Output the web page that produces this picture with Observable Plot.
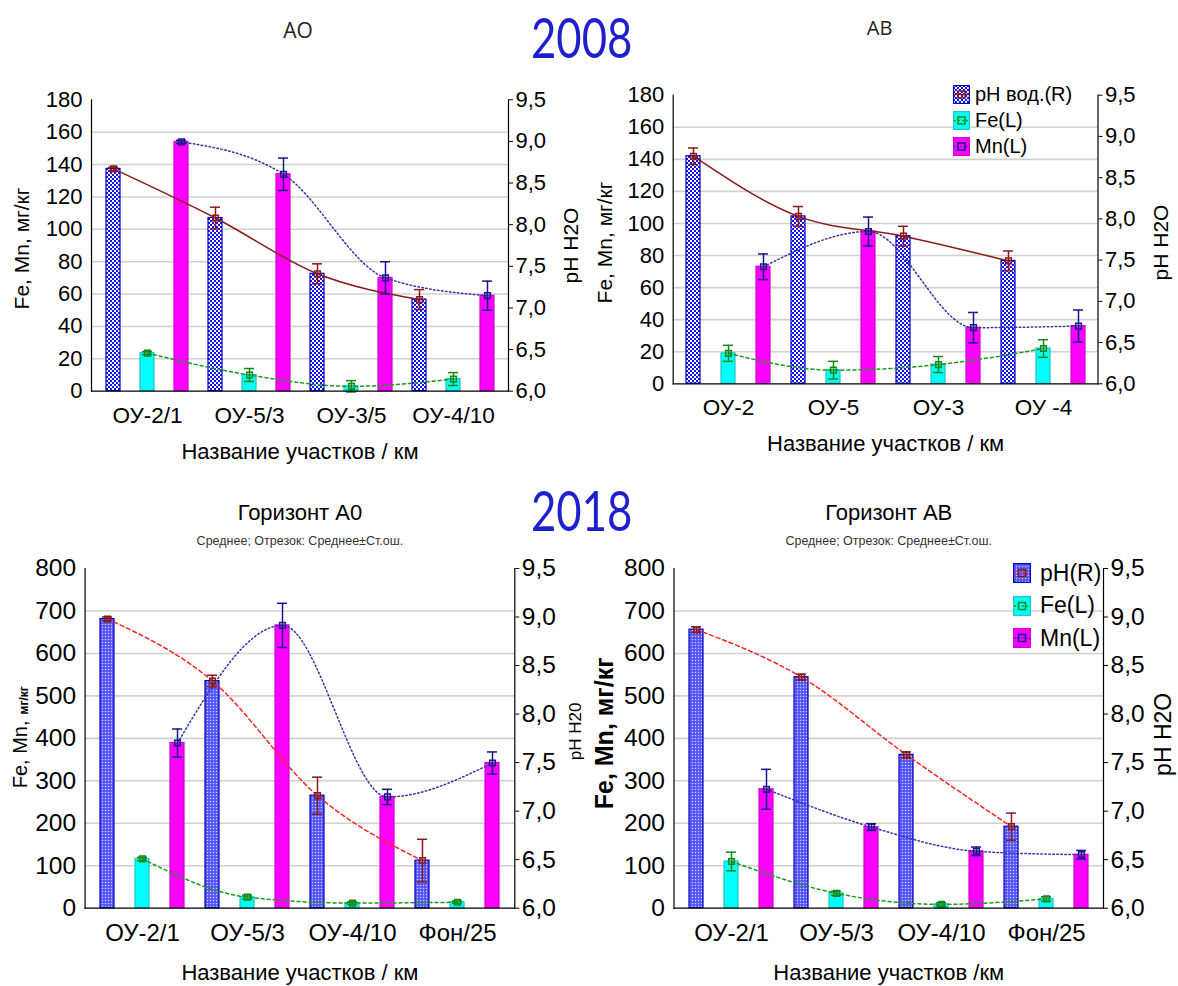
<!DOCTYPE html>
<html lang="ru">
<head>
<meta charset="utf-8">
<script src="https://cdn.jsdelivr.net/npm/d3@7"></script>
<script src="https://cdn.jsdelivr.net/npm/@observablehq/plot@0.6"></script>
<style>
  html, body { margin: 0; background: #fff; }
  #page { position: relative; width: 1178px; height: 986px; overflow: hidden; background: #fff;
          font-family: "Liberation Sans", Arial, sans-serif; color: #000; }
  .panel { position: absolute; }
  .panel svg { display: block; overflow: visible; }
  .year { position: absolute; font-family: Lato, "Open Sans", sans-serif; font-size: 56px; line-height: 1;
          color: #1f1fd0; transform: scaleX(0.78); transform-origin: 0 0; }
  .legend-row { position: absolute; display: flex; align-items: center; white-space: nowrap; }
  .legend-row svg { display: block; }
</style>
</head>
<body>
<div id="page"></div>
<script>
// ---- sites (x categories) ----
const sites2008A0 = ["ОУ-2/1", "ОУ-5/3", "ОУ-3/5", "ОУ-4/10"];
const sites2008AB = ["ОУ-2", "ОУ-5", "ОУ-3", "ОУ -4"];
const sites2018 = ["ОУ-2/1", "ОУ-5/3", "ОУ-4/10", "Фон/25"];

// ---- 2008, horizon A0 ----
const ph2008A0 = [8.67, 8.08, 7.41, 7.10];
const phErr2008A0 = [0.02, 0.13, 0.12, 0.12];
const fe2008A0 = [23.5, 10, 3, 7.5];
const feErr2008A0 = [1, 4, 3.5, 4];
const mn2008A0 = [154, 134, 70, 59];
const mnErr2008A0 = [1, 10, 10, 9];

// ---- 2008, horizon AB ----
const ph2008AB = [8.76, 8.03, 7.79, 7.49];
const phErr2008AB = [0.10, 0.12, 0.12, 0.12];
const fe2008AB = [19, 8.5, 12, 22];
const feErr2008AB = [5, 5.5, 5, 5.5];
const mn2008AB = [73, 95, 35, 36];
const mnErr2008AB = [8, 9, 9.5, 10];

// ---- 2018, horizon A0 ----
const ph2018A0 = [8.98, 8.34, 7.16, 6.49];
const phErr2018A0 = [0.02, 0.06, 0.19, 0.22];
const fe2018A0 = [116, 26, 12, 14];
const feErr2018A0 = [4, 5, 3, 3];
const mn2018A0 = [389, 666, 262, 342];
const mnErr2018A0 = [33, 52, 18, 26];

// ---- 2018, horizon AB ----
const ph2018AB = [8.87, 8.38, 7.58, 6.84];
const phErr2018AB = [0.03, 0.03, 0.03, 0.14];
const fe2018AB = [110, 35, 9, 22];
const feErr2018AB = [22, 5, 4, 5];
const mn2018AB = [280, 191, 134, 126];
const mnErr2018AB = [47, 8, 10, 10];

// ---- axis ticks ----
const leftTicks2008 = [0, 20, 40, 60, 80, 100, 120, 140, 160, 180];
const leftTicks2018 = [0, 100, 200, 300, 400, 500, 600, 700, 800];
const phTicks = [6.0, 6.5, 7.0, 7.5, 8.0, 8.5, 9.0, 9.5];
const phDomain = [6.0, 9.5];

const legendLabels2008 = ["pH вод.(R)", "Fe(L)", "Mn(L)"];
const legendLabels2018 = ["pH(R)", "Fe(L)", "Mn(L)"];

const FONT = "'Liberation Sans', Arial, sans-serif";
const page = document.getElementById("page");

function phPattern(id, fine) {
  return fine
    ? `<pattern id="${id}" width="3" height="3" patternUnits="userSpaceOnUse"><rect width="3" height="3" fill="#6464ff"/><rect width="1" height="1" fill="#d0d0ff"/><rect x="1.5" y="1.5" width="1" height="1" fill="#3030e8"/></pattern>`
    : `<pattern id="${id}" width="4" height="4" patternUnits="userSpaceOnUse"><rect width="4" height="4" fill="#1010ff"/><rect width="2" height="2" fill="#ffffff"/><rect x="2" y="2" width="2" height="2" fill="#ffffff"/></pattern>`;
}

function seriesStyles(id, solidPh) {
  return {
    pH: {fill: `url(#${id}-ph)`, stroke: "#0000c0", line: solidPh ? "#8b1a1a" : "#ff2424",
         dash: solidPh ? null : "4,3", mark: "#8b1a1a"},
    Fe: {fill: "#00ffff", stroke: "#22c4c4", line: "#1c9a1c", dash: "3,3", mark: "#128a12"},
    Mn: {fill: "#ff00ff", stroke: "#d200d2", line: "#3434aa", dash: "1.5,2.5", mark: "#16168c"}
  };
}

function drawPanel(cfg) {
  const toLeft = d3.scaleLinear().domain(phDomain).range([0, cfg.yMax]);
  const rows = [];
  cfg.sites.forEach((s, i) => {
    const ph = cfg.ph[i], pe = cfg.phErr[i];
    rows.push({site: s, series: "pH", key: s + "|pH", v: toLeft(ph), lo: toLeft(ph - pe), hi: toLeft(ph + pe)});
    rows.push({site: s, series: "Fe", key: s + "|Fe", v: cfg.fe[i], lo: cfg.fe[i] - cfg.feErr[i], hi: cfg.fe[i] + cfg.feErr[i]});
    rows.push({site: s, series: "Mn", key: s + "|Mn", v: cfg.mn[i], lo: cfg.mn[i] - cfg.mnErr[i], hi: cfg.mn[i] + cfg.mnErr[i]});
  });
  const keys = rows.map(d => d.key);
  const styles = seriesStyles(cfg.id, cfg.solidPh);
  const order = ["pH", "Fe", "Mn"];
  const of = s => rows.filter(d => d.series === s);

  const marks = [
    Plot.gridY(cfg.leftTicks.filter(t => t > 0 && t < cfg.yMax), {stroke: "#d0d0d0", strokeOpacity: 1, strokeWidth: 1.6})
  ];
  for (const s of order) {
    const st = styles[s];
    marks.push(Plot.barY(of(s), {x: "key", y: "v", fill: st.fill, stroke: st.stroke, strokeWidth: 1.2}));
  }
  for (const s of order) {
    const st = styles[s];
    marks.push(Plot.line(of(s), {x: "key", y: "v", stroke: st.line, strokeWidth: 1.5,
      strokeDasharray: st.dash, curve: "monotone-x"}));
  }
  for (const s of order) {
    const st = styles[s];
    marks.push(
      Plot.ruleX(of(s), {x: "key", y1: "lo", y2: "hi", stroke: st.mark, strokeWidth: 1.5}),
      Plot.tickY(of(s), {x: "key", y: "hi", stroke: st.mark, strokeWidth: 1.5, inset: 2}),
      Plot.tickY(of(s), {x: "key", y: "lo", stroke: st.mark, strokeWidth: 1.5, inset: 2}),
      Plot.dot(of(s), {x: "key", y: "v", symbol: "square", r: 3.2, stroke: st.mark, strokeWidth: 1.5, fill: "none"})
    );
  }
  marks.push(
    Plot.axisY(cfg.leftTicks, {anchor: "left", tickSize: 0, tickPadding: cfg.tickPad, fontSize: cfg.tickFont, label: null}),
    Plot.axisY(phTicks.map(v => toLeft(v)), {anchor: "right", tickSize: 4, tickPadding: 3, fontSize: cfg.tickFont,
      label: null, tickFormat: y => d3.format(".1f")(toLeft.invert(y)).replace(".", ",")}),
    Plot.axisX(keys.filter(k => k.endsWith("|Fe")), {anchor: "bottom", tickSize: 0, tickPadding: cfg.catPad,
      fontSize: cfg.catFont, label: null, tickFormat: k => k.split("|")[0]}),
    Plot.frame({anchor: "left", stroke: "#000", strokeWidth: 1.2}),
    Plot.frame({anchor: "right", stroke: "#000", strokeWidth: 1.2}),
    Plot.frame({anchor: "bottom", stroke: "#000", strokeWidth: 1.2}),
    Plot.text([cfg.xTitle], {text: d => d, frameAnchor: "bottom", textAnchor: "middle", lineAnchor: "middle",
      dy: cfg.xTitleDy, fontSize: cfg.xTitleFont}),
    Plot.text([cfg.rLabel], {text: d => d, frameAnchor: "right", rotate: -90, textAnchor: "middle", lineAnchor: "middle",
      dx: cfg.rLabelDx, dy: cfg.rLabelDy, fontSize: cfg.rLabelFont, fontWeight: cfg.rLabelWeight || "normal"})
  );
  for (const t of cfg.yLabels) {
    marks.push(Plot.text([t.text], {text: d => d, frameAnchor: "left", rotate: -90, textAnchor: "middle", lineAnchor: "middle",
      dx: t.dx, dy: t.dy, fontSize: t.size, fontWeight: t.weight || "normal"}));
  }
  for (const t of cfg.titles) {
    marks.push(Plot.text([t.text], {text: d => d, frameAnchor: "top", textAnchor: "middle", lineAnchor: "middle",
      dx: t.dx || 0, dy: t.dy, fontSize: t.size, fontFamily: t.family || FONT, fill: t.color || "#000"}));
  }

  const svg = Plot.plot({
    width: cfg.width, height: cfg.height,
    marginTop: cfg.m[0], marginRight: cfg.m[1], marginBottom: cfg.m[2], marginLeft: cfg.m[3],
    x: {type: "band", domain: keys, paddingInner: 0.6, paddingOuter: 0.3, axis: null},
    y: {domain: [0, cfg.yMax], axis: null},
    style: {fontFamily: FONT, color: "#000", background: "transparent", overflow: "visible"},
    marks
  });
  d3.select(svg).insert("defs", ":first-child").html(phPattern(cfg.id + "-ph", cfg.finePattern));
  const holder = document.createElement("div");
  holder.className = "panel";
  holder.style.left = cfg.left + "px";
  holder.style.top = cfg.top + "px";
  holder.appendChild(svg);
  page.appendChild(holder);
}

function drawLegend(cfg) {
  const styles = seriesStyles(cfg.id, cfg.solidPh);
  ["pH", "Fe", "Mn"].forEach((s, i) => {
    const st = styles[s];
    const w = cfg.w, h = cfg.h;
    const row = document.createElement("div");
    row.className = "legend-row";
    row.style.left = cfg.left + "px";
    row.style.top = (cfg.centers[i] - h / 2) + "px";
    row.style.height = h + "px";
    row.innerHTML =
      `<svg width="${w}" height="${h}"><defs>${phPattern(cfg.id + "-lg", cfg.finePattern)}</defs>` +
      `<rect x="0.6" y="0.6" width="${w - 1.2}" height="${h - 1.2}" fill="${s === "pH" ? `url(#${cfg.id}-lg)` : st.fill}" stroke="${st.stroke}" stroke-width="1.2"/>` +
      `<line x1="1" x2="${w - 1}" y1="${h / 2}" y2="${h / 2}" stroke="${st.line}" stroke-width="1.4" ${st.dash ? `stroke-dasharray="${s === "Mn" ? "1.5,1.5" : "2,2"}"` : ""}/>` +
      `<rect x="${w / 2 - 3.5}" y="${h / 2 - 3.5}" width="7" height="7" fill="none" stroke="${st.mark}" stroke-width="1.5"/></svg>` +
      `<span style="margin-left:${cfg.gap}px;font-size:${cfg.font}px;line-height:1">${cfg.labels[i]}</span>`;
    page.appendChild(row);
  });
}

// ---- 2008, A0 ----
drawPanel({
  id: "p1", left: 0, top: 0, width: 590, height: 480, m: [99.3, 82, 89.3, 91],
  sites: sites2008A0, ph: ph2008A0, phErr: phErr2008A0, fe: fe2008A0, feErr: feErr2008A0, mn: mn2008A0, mnErr: mnErr2008A0,
  yMax: 180, leftTicks: leftTicks2008, solidPh: true, finePattern: false,
  tickFont: 22, tickPad: 9, catFont: 22.5, catPad: 16,
  xTitle: "Название участков / км", xTitleDy: 61, xTitleFont: 22,
  rLabel: "pH H2O", rLabelDx: 63, rLabelDy: 0, rLabelFont: 21,
  yLabels: [{text: "Fe, Mn, мг/кг", dx: -69, dy: 3, size: 21}],
  titles: [{text: "АО", dx: -2, dy: -69, size: 21, family: "'Open Sans', sans-serif", color: "#222"}]
});

// ---- 2008, AB ----
drawPanel({
  id: "p2", left: 590, top: 0, width: 588, height: 480, m: [94.7, 80.5, 96.7, 82.7],
  sites: sites2008AB, ph: ph2008AB, phErr: phErr2008AB, fe: fe2008AB, feErr: feErr2008AB, mn: mn2008AB, mnErr: mnErr2008AB,
  yMax: 180, leftTicks: leftTicks2008, solidPh: true, finePattern: false,
  tickFont: 22, tickPad: 9, catFont: 22.5, catPad: 15,
  xTitle: "Название участков / км", xTitleDy: 60, xTitleFont: 22,
  rLabel: "pH H2O", rLabelDx: 63, rLabelDy: 3, rLabelFont: 21,
  yLabels: [{text: "Fe, Mn, мг/кг", dx: -68, dy: 3, size: 21}],
  titles: [{text: "АВ", dx: -6, dy: -67, size: 20, family: "'Open Sans', sans-serif", color: "#222"}]
});

// ---- 2018, A0 ----
drawPanel({
  id: "p3", left: 0, top: 480, width: 590, height: 506, m: [88, 75.7, 78.3, 84.6],
  sites: sites2018, ph: ph2018A0, phErr: phErr2018A0, fe: fe2018A0, feErr: feErr2018A0, mn: mn2018A0, mnErr: mnErr2018A0,
  yMax: 800, leftTicks: leftTicks2018, solidPh: false, finePattern: true,
  tickFont: 24.5, tickPad: 9, catFont: 24, catPad: 16,
  xTitle: "Название участков / км", xTitleDy: 65, xTitleFont: 22,
  rLabel: "pH H20", rLabelDx: 61, rLabelDy: -7, rLabelFont: 17,
  yLabels: [{text: "Fe, Mn,", dx: -65, dy: 16, size: 20}, {text: "мг/кг", dx: -61, dy: -38, size: 12, weight: "bold"}],
  titles: [{text: "Горизонт А0", dy: -56, size: 22}, {text: "Среднее; Отрезок: Среднее±Ст.ош.", dy: -28, size: 12.5, color: "#333"}]
});

// ---- 2018, AB ----
drawPanel({
  id: "p4", left: 590, top: 480, width: 588, height: 506, m: [88, 75, 78.3, 83.5],
  sites: sites2018, ph: ph2018AB, phErr: phErr2018AB, fe: fe2018AB, feErr: feErr2018AB, mn: mn2018AB, mnErr: mnErr2018AB,
  yMax: 800, leftTicks: leftTicks2018, solidPh: false, finePattern: true,
  tickFont: 24.5, tickPad: 9, catFont: 24, catPad: 16,
  xTitle: "Название участков /км", xTitleDy: 65, xTitleFont: 22,
  rLabel: "pH H2O", rLabelDx: 60, rLabelDy: -4, rLabelFont: 23,
  yLabels: [{text: "Fe, Mn, мг/кг", dx: -69, dy: -5, size: 25, weight: "bold"}],
  titles: [{text: "Горизонт АВ", dy: -56, size: 22}, {text: "Среднее; Отрезок: Среднее±Ст.ош.", dy: -28, size: 12.5, color: "#333"}]
});

// ---- legends ----
drawLegend({id: "l1", labels: legendLabels2008, solidPh: true, finePattern: false,
  left: 953, centers: [94, 120, 146], w: 17, h: 19, gap: 5, font: 20});
drawLegend({id: "l2", labels: legendLabels2018, solidPh: false, finePattern: true,
  left: 1013, centers: [573, 605.5, 638], w: 18, h: 20, gap: 9, font: 23});

// ---- year headings ----
[["2008", 531, 9], ["2018", 531, 482]].forEach(([t, x, y]) => {
  const el = document.createElement("div");
  el.className = "year";
  el.textContent = t;
  el.style.left = x + "px";
  el.style.top = y + "px";
  page.appendChild(el);
});
</script>
</body>
</html>
